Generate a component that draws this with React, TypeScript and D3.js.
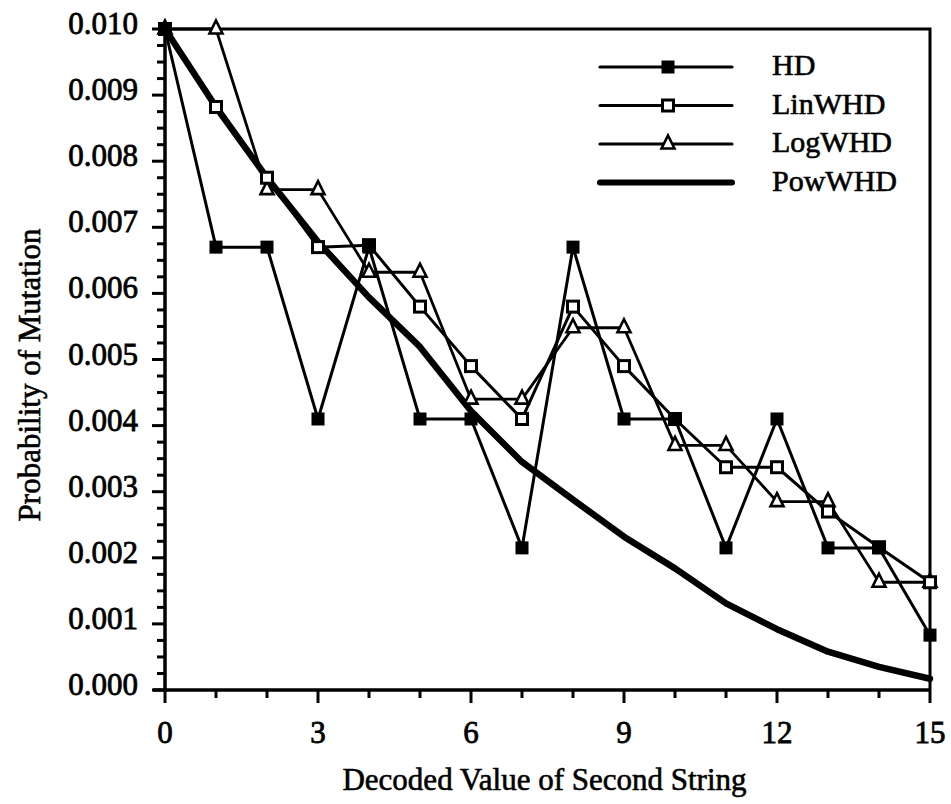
import { useRef, useEffect } from 'react'
import * as d3 from 'd3'

// decoded value of the second string (x) and mutation probabilities per distance measure
const decodedValues = [0, 1, 2, 3, 4, 5, 6, 7, 8, 9, 10, 11, 12, 13, 14, 15]
const hd = [0.0100, 0.0067, 0.0067, 0.0041, 0.0067, 0.0041, 0.0041, 0.00215, 0.0067, 0.0041, 0.0041, 0.00215, 0.0041, 0.00215, 0.00215, 0.00083]
const linWhd = [0.0100, 0.00882, 0.00775, 0.0067, 0.00673, 0.0058, 0.0049, 0.0041, 0.0058, 0.0049, 0.0041, 0.00337, 0.00337, 0.0027, 0.00216, 0.00163]
const logWhd = [0.0100, 0.0100, 0.00757, 0.00757, 0.00632, 0.00632, 0.0044, 0.0044, 0.00548, 0.00548, 0.0037, 0.0037, 0.00285, 0.00285, 0.00163, 0.00163]
const powWhd = [0.0100, 0.00882, 0.00775, 0.00678, 0.00594, 0.00519, 0.00422, 0.00345, 0.00288, 0.00232, 0.00184, 0.00131, 0.00092, 0.00058, 0.00035, 0.00017]

const xTickLabels = [0, 3, 6, 9, 12, 15]
const yTickLabels = [0, 0.001, 0.002, 0.003, 0.004, 0.005, 0.006, 0.007, 0.008, 0.009, 0.010]

const seriesNames = ['HD', 'LinWHD', 'LogWHD', 'PowWHD']

const W = 951
const H = 804
const margin = { left: 165, right: 21, top: 29, bottom: 114 }
const FONT = "'Liberation Serif', 'Times New Roman', Times, 'Nimbus Roman', 'DejaVu Serif', serif"

type Marker = 'filledSquare' | 'openSquare' | 'triangle' | 'none'

const App = () => {
  const svgRef = useRef<SVGSVGElement>(null)

  useEffect(() => {
    if (!svgRef.current) return
    const svg = d3.select(svgRef.current)
    svg.selectAll('*').remove()

    const x = d3.scaleLinear().domain([0, 15]).range([margin.left, W - margin.right])
    const y = d3.scaleLinear().domain([0, 0.010]).range([H - margin.bottom, margin.top])

    const series: { name: string; values: number[]; marker: Marker; width: number }[] = [
      { name: seriesNames[0], values: hd, marker: 'filledSquare', width: 3 },
      { name: seriesNames[1], values: linWhd, marker: 'openSquare', width: 3 },
      { name: seriesNames[2], values: logWhd, marker: 'triangle', width: 2.8 },
      { name: seriesNames[3], values: powWhd, marker: 'none', width: 6.5 },
    ]

    const drawMarker = (g: d3.Selection<SVGGElement, unknown, null, undefined>, kind: Marker, cx: number, cy: number) => {
      if (kind === 'filledSquare') {
        g.append('rect').attr('x', cx - 6.5).attr('y', cy - 6.5).attr('width', 13).attr('height', 13).attr('fill', '#000')
      } else if (kind === 'openSquare') {
        g.append('rect').attr('x', cx - 5.5).attr('y', cy - 5.5).attr('width', 11).attr('height', 11)
          .attr('fill', '#fff').attr('stroke', '#000').attr('stroke-width', 3)
      } else if (kind === 'triangle') {
        g.append('path').attr('d', `M${cx},${cy - 8.5}L${cx + 6.5},${cy + 4.5}L${cx - 6.5},${cy + 4.5}Z`)
          .attr('fill', '#fff').attr('stroke', '#000').attr('stroke-width', 2.6).attr('stroke-linejoin', 'miter')
      }
    }

    const addText = (g: d3.Selection<any, unknown, null, undefined>, size: number) =>
      g.attr('font-family', FONT).attr('font-size', size)
        .attr('fill', '#000').attr('stroke', '#000').attr('stroke-width', 0.8)

    // frame: top and right
    svg.append('path')
      .attr('d', `M${x(0)},${y(0.010)}H${x(15)}V${y(0)}`)
      .attr('fill', 'none').attr('stroke', '#000').attr('stroke-width', 3)

    // y axis
    const yAxis = svg.append('g').attr('transform', `translate(${x(0)},0)`)
    yAxis.append('line').attr('y1', y(0) + 2).attr('y2', y(0.010)).attr('stroke', '#000').attr('stroke-width', 3.5)
    const yMinor = d3.range(0, 41).map((i) => i * 0.00025)
    yAxis.selectAll('line.tick').data(yMinor).enter().append('line')
      .attr('x1', (_, i) => (i % 4 === 0 ? -13 : -8)).attr('x2', 0)
      .attr('y1', (d) => y(d)).attr('y2', (d) => y(d))
      .attr('stroke', '#000').attr('stroke-width', 3)
    addText(yAxis.append('g'), 31).attr('text-anchor', 'end')
      .selectAll('text').data(yTickLabels).enter().append('text')
      .attr('x', -27).attr('y', (d) => y(d) + 5)
      .text((d) => d3.format('.3f')(d))

    // x axis
    const xAxis = svg.append('g').attr('transform', `translate(0,${y(0)})`)
    xAxis.append('line').attr('x1', x(0) - 12).attr('x2', x(15)).attr('stroke', '#000').attr('stroke-width', 3.5)
    xAxis.selectAll('line.tick').data(decodedValues).enter().append('line')
      .attr('x1', (d) => x(d)).attr('x2', (d) => x(d))
      .attr('y1', 0).attr('y2', (d) => (d % 3 === 0 ? 13 : 8))
      .attr('stroke', '#000').attr('stroke-width', 3)
    addText(xAxis.append('g'), 31).attr('text-anchor', 'middle')
      .selectAll('text').data(xTickLabels).enter().append('text')
      .attr('x', (d) => x(d)).attr('y', 53)
      .text((d) => String(d))

    // axis titles
    addText(svg.append('text'), 31)
      .attr('x', (x(0) + x(15)) / 2 - 3).attr('y', 790)
      .attr('text-anchor', 'middle')
      .attr('stroke-width', 0.6)
      .text('Decoded Value of Second String')
    addText(svg.append('text'), 31)
      .attr('transform', `translate(40,375) rotate(-90)`)
      .attr('text-anchor', 'middle')
      .attr('stroke-width', 0.6)
      .text('Probability of Mutation')

    // series lines, thick PowWHD first
    const line = d3.line<number>().x((_, i) => x(decodedValues[i])).y((d) => y(d))
    ;[...series].reverse().forEach((s) => {
      svg.append('path')
        .attr('d', line(s.values) as string)
        .attr('fill', 'none').attr('stroke', '#000')
        .attr('stroke-width', s.width).attr('stroke-linejoin', 'round').attr('stroke-linecap', 'round')
    })
    ;[...series].reverse().forEach((s) => {
      const g = svg.append('g')
      s.values.forEach((v, i) => drawMarker(g, s.marker, x(decodedValues[i]), y(v)))
    })

    // legend
    const legend = svg.append('g')
    series.forEach((s, i) => {
      const ly = 67 + i * 38.5
      legend.append('line').attr('x1', 600).attr('x2', 732).attr('y1', ly).attr('y2', ly)
        .attr('stroke', '#000').attr('stroke-width', s.marker === 'none' ? 6 : 3.2).attr('stroke-linecap', 'round')
      drawMarker(legend, s.marker, 668, ly)
      addText(legend.append('text'), 30)
        .attr('x', 772).attr('y', ly + 8)
        .attr('stroke-width', 0.6)
        .text(s.name)
    })
  }, [])

  return (
    <div style={{ position: 'absolute', left: 0, top: 0 }}>
      <svg ref={svgRef} width={W} height={H} style={{ display: 'block', background: '#fff' }} />
    </div>
  )
}

export default App
